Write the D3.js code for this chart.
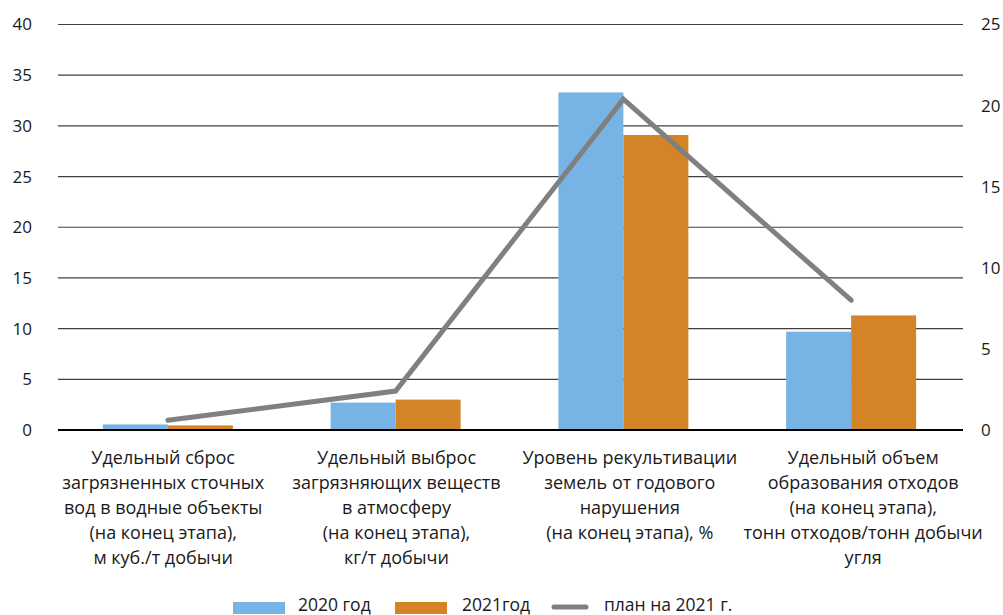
<!DOCTYPE html>
<html><head><meta charset="utf-8">
<script src="https://cdn.jsdelivr.net/npm/d3@7"></script>
<style>body{margin:0;background:#fff}svg text{font-family:"Open Sans",sans-serif;fill:#1a1a1a}</style>
</head><body><svg id="c" width="1003" height="615"></svg>
<script>
const categories = [
  ["Удельный сброс","загрязненных сточных","вод в водные объекты","(на конец этапа),","м куб./т добычи"],
  ["Удельный выброс","загрязняющих веществ","в атмосферу","(на конец этапа),","кг/т добычи"],
  ["Уровень рекультивации","земель от годового","нарушения","(на конец этапа), %"],
  ["Удельный объем","образования отходов","(на конец этапа),","тонн отходов/тонн добычи","угля"]
];
const values2020 = [0.55, 2.7, 33.3, 9.7];
const values2021 = [0.45, 3.0, 29.1, 11.3];
const plan2021 = [0.6, 2.4, 20.4, 8.0];
const leftTicks = [0,5,10,15,20,25,30,35,40];
const rightTicks = [0,5,10,15,20,25];
const seriesNames = ["2020 год","2021год","план на 2021 г."];
const colors = ["#77b4e5","#d38426","#808080"];

const svg = d3.select("#c");
const x = d3.scaleBand().domain(d3.range(4)).range([54,965]);
const xl = d3.scaleBand().domain(d3.range(4)).range([46.5,979.8]);
const yL = d3.scaleLinear().domain([0,40]).range([430,24.5]);
const yR = d3.scaleLinear().domain([0,25]).range([430,24.5]);

// gridlines
svg.append("g").selectAll("line").data(leftTicks).join("line")
  .attr("x1",58).attr("x2",963)
  .attr("y1",d=>yL(d)).attr("y2",d=>yL(d))
  .attr("stroke",d=>d===0?"#000":"#404040").attr("stroke-width",d=>d===0?2:1.2);

// bars
const bw = 65;
const g = svg.append("g");
categories.forEach((c,i)=>{
  const cx = x(i)+x.bandwidth()/2;
  g.append("rect").attr("x",cx-bw).attr("width",bw).attr("y",yL(values2020[i])).attr("height",yL(0)-yL(values2020[i])).attr("fill",colors[0]);
  g.append("rect").attr("x",cx).attr("width",bw).attr("y",yL(values2021[i])).attr("height",yL(0)-yL(values2021[i])).attr("fill",colors[1]);
});
svg.append("line").attr("x1",58).attr("x2",963).attr("y1",yL(0)).attr("y2",yL(0)).attr("stroke","#000").attr("stroke-width",2);

// line
const line = d3.line().x((d,i)=>x(i)+x.bandwidth()/2).y(d=>yR(d));
svg.append("path").datum(plan2021).attr("d",line).attr("fill","none")
  .attr("stroke",colors[2]).attr("stroke-width",5).attr("stroke-linecap","round").attr("stroke-linejoin","miter");

// axes labels
svg.append("g").selectAll("text").data(leftTicks).join("text")
  .attr("x",32).attr("y",d=>yL(d)).attr("dy","0.35em").attr("text-anchor","end")
  .attr("font-size",17).text(d=>d);
svg.append("g").selectAll("text").data(rightTicks).join("text")
  .attr("x",981).attr("y",d=>yR(d)).attr("dy","0.35em").attr("text-anchor","start")
  .attr("font-size",17).text(d=>d);

// category labels
categories.forEach((c,i)=>{
  const cx = xl(i)+xl.bandwidth()/2;
  const t = svg.append("text").attr("text-anchor","middle").attr("font-size",18);
  c.forEach((l,j)=>t.append("tspan").attr("x",cx).attr("y",464+j*25).text(l));
});

// legend
const leg = svg.append("g");
leg.append("rect").attr("x",233).attr("y",602).attr("width",52).attr("height",12).attr("fill",colors[0]);
leg.append("text").attr("x",298).attr("y",611).attr("font-size",17.5).text(seriesNames[0]);
leg.append("rect").attr("x",395).attr("y",602).attr("width",52).attr("height",12).attr("fill",colors[1]);
leg.append("text").attr("x",462).attr("y",611).attr("font-size",17.5).text(seriesNames[1]);
leg.append("line").attr("x1",554).attr("x2",586).attr("y1",607).attr("y2",607).attr("stroke",colors[2]).attr("stroke-width",5).attr("stroke-linecap","round");
leg.append("text").attr("x",604).attr("y",611).attr("font-size",17.5).text(seriesNames[2]);
</script></body></html>
